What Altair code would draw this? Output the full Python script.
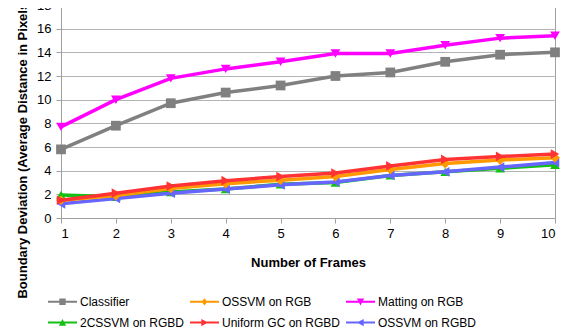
import altair as alt
import pandas as pd

frames = [1, 2, 3, 4, 5, 6, 7, 8, 9, 10]

series_names = ["Classifier", "OSSVM on RGB", "Matting on RGB",
                "2CSSVM on RGBD", "Uniform GC on RGBD", "OSSVM on RGBD"]
series_colors = ["#808080", "#FF9900", "#FF00FF", "#13C013", "#FF3333", "#6666FF"]

classifier = [5.8, 7.8, 9.7, 10.6, 11.2, 12.0, 12.3, 13.2, 13.8, 14.0]
ossvm_rgb = [1.5, 1.9, 2.5, 2.9, 3.2, 3.5, 4.1, 4.6, 4.9, 5.1]
matting_rgb = [7.7, 10.0, 11.8, 12.6, 13.2, 13.9, 13.9, 14.6, 15.2, 15.4]
cssvm_rgbd = [1.95, 1.8, 2.2, 2.45, 2.85, 3.0, 3.6, 3.9, 4.2, 4.5]
uniform_gc_rgbd = [1.5, 2.1, 2.7, 3.15, 3.5, 3.8, 4.4, 4.95, 5.2, 5.4]
ossvm_rgbd = [1.2, 1.65, 2.1, 2.45, 2.8, 3.05, 3.6, 3.9, 4.3, 4.7]

series_values = [classifier, ossvm_rgb, matting_rgb, cssvm_rgbd, uniform_gc_rgbd, ossvm_rgbd]
plot_shapes = ["square", "diamond", "triangle-down", "triangle-up", "triangle-right", "triangle-left"]
legend_paths = [
    "M-1,-0.07H1V0.07H-1Z M-0.22,-0.22H0.22V0.22H-0.22Z",
    "M-1,-0.07H1V0.07H-1Z M0,-0.25L0.2,0L0,0.25L-0.2,0Z",
    "M-1,-0.07H1V0.07H-1Z M-0.25,-0.22H0.25L0,0.25Z",
    "M-1,-0.07H1V0.07H-1Z M-0.25,0.22L0,-0.25L0.25,0.22Z",
    "M-1,-0.07H1V0.07H-1Z M-0.22,-0.25L0.25,0L-0.22,0.25Z",
    "M-1,-0.07H1V0.07H-1Z M0.22,-0.25V0.25L-0.25,0Z",
]
draw_order = ["Classifier", "Matting on RGB", "2CSSVM on RGBD", "OSSVM on RGBD",
              "OSSVM on RGB", "Uniform GC on RGBD"]

rows = []
for name, vals in zip(series_names, series_values):
    for f, v in zip(frames, vals):
        rows.append({"series": name, "frame": f, "value": v})
df = pd.DataFrame(rows)

x_enc = alt.X("frame:Q",
              scale=alt.Scale(domain=[1, 10], nice=False, zero=False),
              axis=alt.Axis(title="Number of Frames", values=frames, format="d",
                            grid=False, titleY=44, titleBaseline="middle", labelPadding=4))
y_enc = alt.Y("value:Q",
              scale=alt.Scale(domain=[0, 18], nice=False),
              axis=alt.Axis(title="Boundary Deviation (Average Distance in Pixels)",
                            values=list(range(0, 19, 2)), grid=True, labelPadding=5,
                            titleX=-39, titleY=143, titleBaseline="middle"))

layers = []
for name in draw_order:
    i = series_names.index(name)
    base = alt.Chart(df).transform_filter(alt.datum.series == name)
    line = base.mark_line(strokeWidth=3.5, color=series_colors[i]).encode(x=x_enc, y=y_enc)
    pts = base.mark_point(filled=True, opacity=1, size=95, color=series_colors[i],
                          shape=plot_shapes[i]).encode(x=x_enc, y=y_enc)
    layers += [line, pts]

leg = alt.Legend(title=None, orient="none", legendX=-13, legendY=282,
                 columns=3, direction="horizontal",
                 symbolSize=841, labelFontSize=12, labelColor="#000000",
                 labelFont="Liberation Sans",
                 labelOffset=3, columnPadding=5, rowPadding=0,
                 symbolStrokeWidth=0)

legend_layer = alt.Chart(df).transform_filter("false").mark_point(filled=True, opacity=1).encode(
    color=alt.Color("series:N",
                    scale=alt.Scale(domain=series_names, range=series_colors),
                    legend=leg),
    shape=alt.Shape("series:N",
                    scale=alt.Scale(domain=series_names, range=legend_paths),
                    legend=leg),
)

chart = alt.layer(*layers, legend_layer).properties(
    width=494, height=213,
    background="white",
    autosize=alt.AutoSizeParams(type="none"),
    padding={"left": 53, "top": -3, "right": 9, "bottom": 110},
).configure_view(stroke="#A0A0A0", strokeWidth=1).configure_axis(
    labelFont="Liberation Sans", labelFontSize=13, labelColor="#000000",
    titleFont="Liberation Sans", titleFontSize=13, titleFontWeight="bold", titleColor="#000000",
    domainColor="#A0A0A0", tickColor="#A0A0A0", gridColor="#B4B4B4",
    tickSize=5,
)

chart.save("out.html", embed_options={"renderer": "svg", "actions": False})
